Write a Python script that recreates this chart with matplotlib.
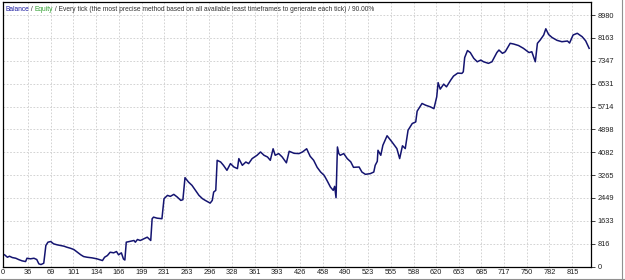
import matplotlib
matplotlib.use("Agg")
from matplotlib import pyplot as plt
from matplotlib.lines import Line2D

# balance (trade number, balance)
trades = [3, 7, 10, 14, 19, 23, 28, 33, 35, 40, 45, 49, 52, 55, 59, 62, 65, 69,
          73, 78, 83, 88, 92, 97, 102, 107, 112, 116, 121, 128, 135, 143, 146,
          150, 154, 159, 163, 166, 170, 173, 175, 177, 188, 190, 193, 197, 202,
          207, 212, 214, 216, 221, 228, 231, 236, 240, 245, 250, 255, 258, 261,
          264, 266, 271, 276, 281, 286, 290, 297, 300, 302, 305, 307, 312, 316,
          321, 326, 331, 336, 338, 343, 348, 352, 357, 364, 369, 374, 379, 383,
          387, 390, 395, 400, 406, 410, 417, 424, 429, 435, 440, 445, 450, 455,
          460, 464, 469, 473, 475, 477, 479, 481, 483, 488, 493, 498, 502, 510,
          514, 519, 526, 531, 533, 536, 537, 541, 544, 550, 557, 564, 568, 572,
          576, 580, 586, 591, 593, 600, 605, 612, 617, 621, 623, 626, 631, 635,
          641, 645, 651, 657, 659, 661, 665, 669, 674, 679, 684, 688, 695, 700,
          707, 710, 715, 719, 726, 731, 738, 745, 753, 757, 760, 762, 765, 769,
          774, 777, 781, 786, 793, 800, 808, 811, 816, 822, 829, 834, 839]
balance = [419, 333, 369, 322, 297, 251, 204, 179, 297, 276, 297, 251, 97, 72,
           118, 752, 870, 895, 813, 777, 752, 727, 691, 655, 609, 512, 419, 358,
           333, 311, 276, 215, 333, 394, 512, 490, 537, 419, 490, 269, 233, 870,
           931, 870, 967, 931, 992, 1049, 931, 1708, 1765, 1729, 1708, 2424,
           2542, 2506, 2578, 2481, 2363, 2388, 3175, 3079, 3018, 2900, 2721,
           2542, 2424, 2363, 2266, 2363, 2660, 2721, 3795, 3734, 3616, 3437,
           3677, 3555, 3498, 3856, 3616, 3734, 3677, 3856, 3974, 4092, 3974,
           3913, 3795, 4207, 3974, 4035, 3913, 3705, 4117, 4045, 4035, 4092,
           4207, 3938, 3795, 3544, 3376, 3258, 3079, 2839, 2721, 2864, 2459,
           4271, 4035, 3974, 4035, 3856, 3741, 3544, 3555, 3376, 3294, 3319,
           3376, 3616, 3759, 4153, 3974, 4332, 4672, 4450, 4214, 3856, 4314,
           4214, 4869, 5109, 5166, 5549, 5825, 5764, 5703, 5639, 6061, 6569,
           6337, 6516, 6419, 6659, 6802, 6909, 6899, 6956, 7464, 7715, 7643,
           7436, 7314, 7375, 7314, 7257, 7314, 7643, 7733, 7615, 7672, 7973,
           7948, 7894, 7794, 7643, 7672, 7464, 7314, 7973, 8091, 8270, 8492,
           8288, 8180, 8080, 8030, 8055, 7983, 8270, 8331, 8209, 8062, 7794]

x_ticks = [0, 36, 69, 101, 134, 166, 199, 231, 263, 296, 328, 361, 393, 426,
           458, 490, 523, 555, 588, 620, 653, 685, 717, 750, 782, 815]
y_ticks = [0, 816, 1633, 2449, 3265, 4082, 4898, 5714, 6531, 7347, 8163, 8980]

font = ["Liberation Sans Narrow", "Liberation Sans", "DejaVu Sans"]
plt.rcParams["font.family"] = font

fig = plt.figure(figsize=(6.25, 2.8), dpi=100)
ax = fig.add_axes([0.004, 0.048, 0.942, 0.945])

ax.plot(trades, balance, color="#141470", lw=1.1)

ax.set_xlim(0, 842)
ax.set_ylim(0, 9450)
ax.set_xticks(x_ticks)
ax.set_yticks(y_ticks)
ax.set_xticklabels([str(v) for v in x_ticks])
ax.set_yticklabels([str(v) for v in y_ticks])
ax.yaxis.tick_right()
ax.tick_params(axis="x", length=0, pad=2, labelsize=5.3, colors="#202020")
ax.tick_params(axis="y", length=3, width=0.6, pad=1.5, labelsize=5.3,
               colors="#202020")
ax.grid(True, color="#cccccc", lw=0.6, ls=(0, (2, 2)))
for s in ax.spines.values():
    s.set_color("black")
    s.set_linewidth(0.9)

# coloured header text
fs = 4.8
t1 = ax.text(0.005, 0.985, "Balance", transform=ax.transAxes, color="#1a1aa0",
             fontsize=fs, va="top", ha="left")
t2 = ax.annotate(" / ", xy=(1, 0), xycoords=t1, va="bottom", fontsize=fs,
                 color="#303030")
t3 = ax.annotate("Equity", xy=(1, 0), xycoords=t2, va="bottom", fontsize=fs,
                 color="#30a030")
ax.annotate(" / Every tick (the most precise method based on all available least "
            "timeframes to generate each tick) / 90.00%", xy=(1, 0),
            xycoords=t3, va="bottom", fontsize=fs, color="#303030")

# window frame lines
fig.add_artist(Line2D([0, 1], [0.003, 0.003], color="#909090", lw=0.8))
fig.add_artist(Line2D([0.995, 0.995], [0, 1], color="#909090", lw=0.8))

fig.savefig("out.png", dpi=100)
